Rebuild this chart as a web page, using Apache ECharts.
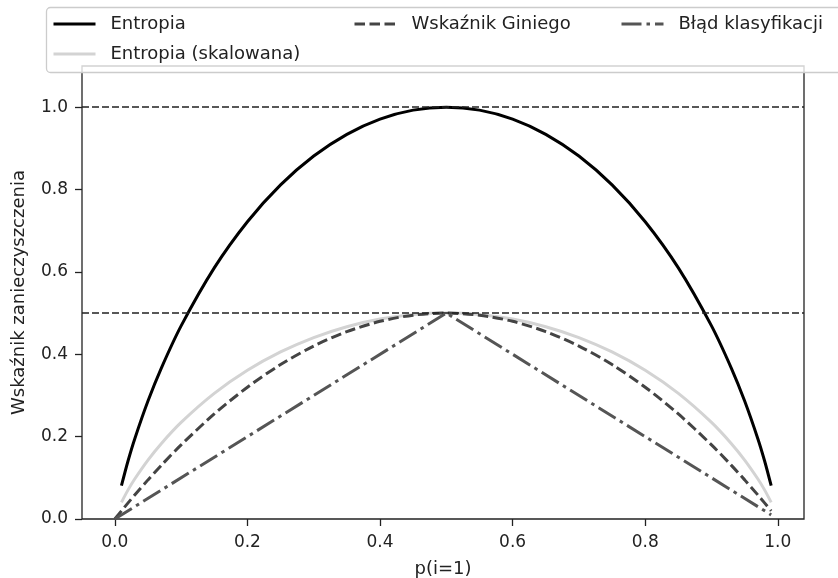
<!DOCTYPE html>
<html>
<head>
<meta charset="utf-8">
<script src="https://cdn.jsdelivr.net/npm/echarts@6/dist/echarts.min.js"></script>
<style>html,body{margin:0;padding:0;background:#fff}#c{width:838px;height:578px}</style>
</head>
<body>
<div id="c"></div>
<script>
// Data
var pValues = [0, 0.01, 0.02, 0.03, 0.05, 0.07, 0.1, 0.15, 0.2, 0.25, 0.3, 0.35, 0.4, 0.45, 0.5, 0.55, 0.6, 0.65, 0.7, 0.75, 0.8, 0.85, 0.9, 0.93, 0.95, 0.97, 0.98, 0.99];
var entropyValues = [null, 0.0808, 0.1414, 0.1944, 0.2864, 0.3659, 0.4690, 0.6098, 0.7219, 0.8113, 0.8813, 0.9341, 0.9710, 0.9928, 1.0, 0.9928, 0.9710, 0.9341, 0.8813, 0.8113, 0.7219, 0.6098, 0.4690, 0.3659, 0.2864, 0.1944, 0.1414, 0.0808];
var scaledEntropyValues = [null, 0.0404, 0.0707, 0.0972, 0.1432, 0.1830, 0.2345, 0.3049, 0.3610, 0.4056, 0.4406, 0.4670, 0.4855, 0.4964, 0.5, 0.4964, 0.4855, 0.4670, 0.4406, 0.4056, 0.3610, 0.3049, 0.2345, 0.1830, 0.1432, 0.0972, 0.0707, 0.0404];
var giniValues = [0, 0.0198, 0.0392, 0.0582, 0.095, 0.1302, 0.18, 0.255, 0.32, 0.375, 0.42, 0.455, 0.48, 0.495, 0.5, 0.495, 0.48, 0.455, 0.42, 0.375, 0.32, 0.255, 0.18, 0.1302, 0.095, 0.0582, 0.0392, 0.0198];
var errorP = [0, 0.5, 0.99];
var errorValues = [0, 0.5, 0.01];
var refLines = [0.5, 1.0];
var xTicks = [0, 0.2, 0.4, 0.6, 0.8, 1.0];
var yTicks = [0, 0.2, 0.4, 0.6, 0.8, 1.0];
var seriesNames = ['Entropia', 'Entropia (skalowana)', 'Wskaźnik Giniego', 'Błąd klasyfikacji'];

function zip(xs, ys) { return xs.map(function (x, i) { return [x, ys[i]]; }); }

var FONT = 'DejaVu Sans';
var TXT = '#222';
var chart = echarts.init(document.getElementById('c'), null, {renderer: 'canvas'});

function legendAt(name, left, top) {
  return {
    data: [name], left: left, top: top, padding: 0, itemWidth: 42, itemHeight: 14,
    itemStyle: {opacity: 0},
    lineStyle: {width: 3},
    textStyle: {fontFamily: FONT, fontSize: 18, color: TXT, padding: [0, 0, 0, 10]},
    selectedMode: false, z: 20
  };
}

chart.setOption({
  animation: false,
  backgroundColor: '#fff',
  graphic: [{
    type: 'rect', z: 10, silent: true,
    shape: {x: 46.5, y: 7.5, width: 820, height: 65, r: 4},
    style: {fill: 'rgba(255,255,255,0.8)', stroke: '#cccccc', lineWidth: 1.3}
  }],
  legend: [
    legendAt(seriesNames[0], 52, 15),
    legendAt(seriesNames[1], 52, 45),
    legendAt(seriesNames[2], 353, 15),
    legendAt(seriesNames[3], 620, 15)
  ],
  grid: {left: 82, right: 34, top: 66, bottom: 59, outerBoundsMode: 'none', containLabel: false,
    show: true, borderColor: '#222', borderWidth: 1.3, backgroundColor: 'transparent'},
  xAxis: {
    type: 'value', min: -0.0495, max: 1.0395,
    name: 'p(i=1)', nameLocation: 'middle', nameGap: 41,
    nameTextStyle: {fontFamily: FONT, fontSize: 18, color: TXT},
    axisLine: {show: false, onZero: false},
    splitLine: {show: false},
    axisTick: {show: true, inside: false, length: 7, lineStyle: {color: '#222', width: 1.3}, customValues: xTicks},
    axisLabel: {customValues: xTicks, margin: 15, fontFamily: FONT, fontSize: 17, color: TXT,
      formatter: function (v) { return v.toFixed(1); }}
  },
  yAxis: {
    type: 'value', min: 0, max: 1.1,
    name: 'Wskaźnik zanieczyszczenia', nameLocation: 'middle', nameGap: 54,
    nameTextStyle: {fontFamily: FONT, fontSize: 18, color: TXT},
    axisLine: {show: false, onZero: false},
    splitLine: {show: false},
    axisTick: {show: true, inside: false, length: 7, lineStyle: {color: '#222', width: 1.3}, customValues: yTicks},
    axisLabel: {customValues: yTicks, margin: 14, fontFamily: FONT, fontSize: 17, color: TXT,
      formatter: function (v) { return v.toFixed(1); }}
  },
  series: [
    {name: seriesNames[0], type: 'line', data: zip(pValues, entropyValues), symbol: 'none', smooth: 0.3,
      lineStyle: {color: '#000', width: 3}, itemStyle: {color: '#000'}, z: 2},
    {name: seriesNames[1], type: 'line', data: zip(pValues, scaledEntropyValues), symbol: 'none', smooth: 0.3,
      lineStyle: {color: '#d3d3d3', width: 3}, itemStyle: {color: '#d3d3d3'}, z: 3},
    {name: seriesNames[2], type: 'line', data: zip(pValues, giniValues), symbol: 'none', smooth: 0.3,
      lineStyle: {color: '#444', width: 3, type: [10.5, 4.5]}, itemStyle: {color: '#444'}, z: 4},
    {name: seriesNames[3], type: 'line', data: zip(errorP, errorValues), symbol: 'none',
      lineStyle: {color: '#555', width: 3, type: [20, 5, 3.5, 5]}, itemStyle: {color: '#555'}, z: 5,
      markLine: {silent: true, symbol: 'none', label: {show: false},
        lineStyle: {color: '#222', width: 1.6, type: [7, 3]},
        data: refLines.map(function (v) { return {yAxis: v}; })}}
  ]
});
</script>
</body>
</html>
